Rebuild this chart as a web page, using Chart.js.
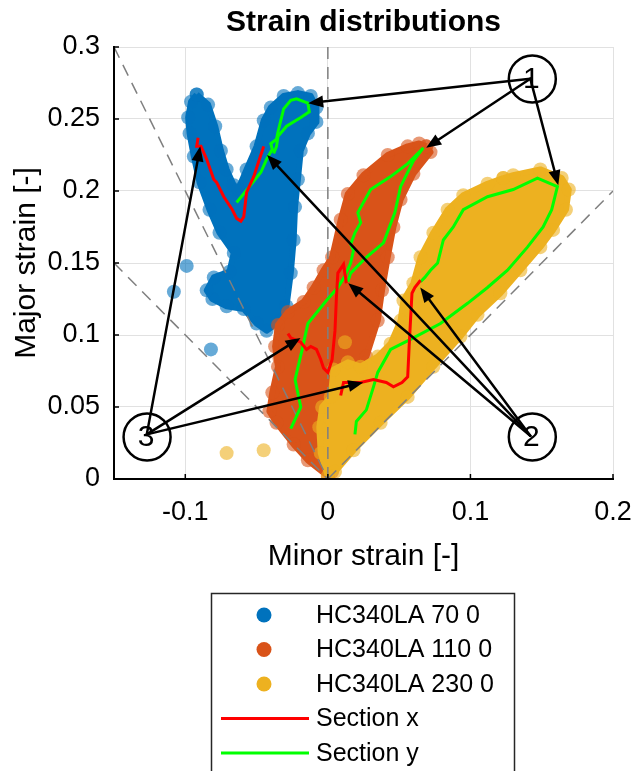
<!DOCTYPE html>
<html>
<head>
<meta charset="utf-8">
<title>Strain distributions</title>
<script src="https://cdn.jsdelivr.net/npm/chart.js@4.4.0/dist/chart.umd.min.js"></script>
<style>
  html, body { margin: 0; padding: 0; background: #fff; }
  canvas { display: block; }
</style>
</head>
<body>
<canvas id="strain-chart" width="634" height="771"></canvas>
<script>

// axis ticks
var xTickValues = [-0.1, 0, 0.1, 0.2];
var xTickLabels = ['-0.1', '0', '0.1', '0.2'];
var yTickValues = [0, 0.05, 0.1, 0.15, 0.2, 0.25, 0.3];
var yTickLabels = ['0', '0.05', '0.1', '0.15', '0.2', '0.25', '0.3'];

// outline of each point cloud [minor, major]
var cloud70 = [[-0.092,0.267],[-0.084,0.260],[-0.079,0.245],[-0.075,0.228],[-0.071,0.215],[-0.066,0.204],
  [-0.063,0.201],[-0.057,0.215],[-0.050,0.231],[-0.045,0.249],[-0.040,0.258],[-0.031,0.266],[-0.021,0.268],
  [-0.012,0.266],[-0.008,0.258],[-0.008,0.248],[-0.014,0.240],[-0.019,0.228],[-0.021,0.208],[-0.023,0.189],
  [-0.024,0.166],[-0.026,0.143],[-0.029,0.120],[-0.033,0.110],[-0.043,0.103],[-0.050,0.108],[-0.059,0.118],
  [-0.071,0.120],[-0.081,0.125],[-0.085,0.131],[-0.080,0.140],[-0.069,0.144],[-0.066,0.157],[-0.076,0.171],
  [-0.083,0.187],[-0.090,0.206],[-0.094,0.224],[-0.097,0.240],[-0.098,0.251],[-0.096,0.262]];
var cloud110 = [[0.069,0.231],[0.072,0.227],[0.060,0.212],[0.051,0.194],[0.046,0.175],[0.042,0.154],
  [0.038,0.131],[0.035,0.110],[0.027,0.085],[0.022,0.076],[0.012,0.040],[0.003,0.005],[0.000,0.002],
  [-0.014,0.013],[-0.024,0.024],[-0.036,0.039],[-0.041,0.047],[-0.039,0.060],[-0.035,0.078],[-0.037,0.092],
  [-0.035,0.107],[-0.028,0.116],[-0.017,0.123],[-0.010,0.133],[-0.003,0.145],[0.003,0.154],[0.009,0.180],
  [0.014,0.198],[0.025,0.211],[0.042,0.225],[0.056,0.231],[0.064,0.233]];
var cloud230 = [[0.123,0.209],[0.130,0.211],[0.149,0.215],[0.164,0.209],[0.169,0.201],[0.167,0.187],
  [0.158,0.173],[0.149,0.161],[0.135,0.145],[0.121,0.129],[0.105,0.114],[0.093,0.099],[0.074,0.078],
  [0.056,0.057],[0.037,0.039],[0.018,0.020],[0.005,0.005],[0.000,0.002],[-0.005,0.018],[-0.006,0.036],
  [-0.004,0.050],[0.002,0.057],[0.004,0.076],[0.014,0.081],[0.023,0.078],[0.035,0.085],[0.044,0.094],
  [0.051,0.110],[0.053,0.124],[0.060,0.136],[0.065,0.154],[0.074,0.171],[0.084,0.187],[0.095,0.197],
  [0.112,0.205]];

// loose points outside the clouds
var stray70 = [[-0.099,0.148],[-0.108,0.130],[-0.082,0.090]];
var stray110 = [[-0.034,0.084]];
var stray230 = [[-0.071,0.018],[-0.045,0.020],[0.012,0.095]];

// strain paths along the two sections
var sectionX70 = [[-0.091,0.237],[-0.092,0.231],[-0.089,0.231],[-0.085,0.222],[-0.080,0.208],[-0.078,0.206],
  [-0.073,0.196],[-0.067,0.187],[-0.064,0.181],[-0.061,0.179],[-0.059,0.182],[-0.057,0.199],[-0.052,0.210],
  [-0.048,0.222],[-0.045,0.231]];
var sectionY70 = [[-0.064,0.192],[-0.055,0.203],[-0.047,0.213],[-0.043,0.222],[-0.039,0.229],[-0.040,0.233],
  [-0.036,0.236],[-0.035,0.241],[-0.033,0.249],[-0.031,0.257],[-0.026,0.263],[-0.022,0.264],[-0.014,0.261],
  [-0.013,0.255],[-0.019,0.251],[-0.029,0.245],[-0.035,0.238],[-0.036,0.231],[-0.038,0.226]];
var sectionX110 = [[-0.028,0.101],[-0.026,0.098],[-0.019,0.095],[-0.015,0.090],[-0.012,0.092],[-0.008,0.090],
  [-0.005,0.083],[-0.003,0.077],[0.000,0.074],[0.003,0.083],[0.005,0.103],[0.006,0.126],[0.007,0.143],
  [0.011,0.149],[0.013,0.136]];
var sectionY110 = [[-0.026,0.035],[-0.019,0.050],[-0.023,0.069],[-0.018,0.090],[-0.014,0.108],[-0.001,0.124],
  [0.007,0.133],[0.012,0.141],[0.016,0.150],[0.018,0.159],[0.016,0.163],[0.019,0.171],[0.023,0.178],
  [0.021,0.185],[0.030,0.201],[0.044,0.210],[0.056,0.219],[0.063,0.226],[0.067,0.230],[0.060,0.221],
  [0.051,0.203],[0.047,0.185],[0.039,0.164],[0.027,0.154],[0.016,0.143],[0.014,0.137]];
var sectionX230 = [[0.009,0.058],[0.011,0.067],[0.023,0.067],[0.032,0.069],[0.041,0.067],[0.046,0.064],
  [0.052,0.067],[0.056,0.071],[0.057,0.092],[0.059,0.129],[0.061,0.133],[0.065,0.138]];
var sectionY230 = [[0.019,0.031],[0.020,0.040],[0.027,0.048],[0.032,0.064],[0.035,0.074],[0.044,0.090],
  [0.058,0.097],[0.079,0.108],[0.098,0.122],[0.112,0.133],[0.126,0.145],[0.140,0.161],[0.151,0.175],
  [0.157,0.187],[0.161,0.203],[0.147,0.209],[0.130,0.201],[0.112,0.196],[0.095,0.187],[0.088,0.175],
  [0.081,0.166],[0.077,0.150],[0.072,0.145],[0.068,0.140],[0.065,0.137]];

// reference strain paths (uniaxial, shear, plane strain, equibiaxial)
var uniaxialLine = [[-0.15,0.3],[0,0]];
var shearLine = [[-0.15,0.15],[0,0]];
var planeStrainLine = [[0,0],[0,0.3]];
var biaxialLine = [[0,0],[0.2,0.2]];

// numbered callouts and the points their arrows go to
var calloutText = ['1', '2', '3'];
var calloutPos = [[0.1434,0.2778],[0.1434,0.0292],[-0.1268,0.0292]];
var arrowFrom = [[0.142,0.278],[0.142,0.278],[0.142,0.278],
                 [0.142,0.030],[0.142,0.030],[0.142,0.030],
                 [-0.127,0.031],[-0.127,0.031],[-0.127,0.031]];
var arrowTo = [[-0.0138,0.261],[0.069,0.230],[0.1616,0.204],
               [-0.0426,0.225],[0.0143,0.136],[0.0648,0.133],
               [-0.0895,0.231],[-0.0192,0.098],[0.0248,0.067]];

var BLUE = '#0072BD', ORANGE = '#D95319', YELLOW = '#EDB120';

function toXY(pts) {
    return pts.map(function (p) { return { x: p[0], y: p[1] }; });
}
function closed(pts) {
    return pts.concat([pts[0]]);
}
function faded(hex, a) {
    var n = parseInt(hex.slice(1), 16);
    return 'rgba(' + (n >> 16) + ',' + ((n >> 8) & 255) + ',' + (n & 255) + ',' + a + ')';
}

function cloudSet(label, pts, color, order) {
    return {
        label: label,
        data: toXY(closed(pts)),
        showLine: true,
        fill: 'shape',
        backgroundColor: color,
        borderColor: color,
        borderWidth: 6,
        borderJoinStyle: 'round',
        pointRadius: 7,
        pointBackgroundColor: faded(color, 0.6),
        pointBorderWidth: 0,
        order: order,
        legendKind: 'marker'
    };
}
function straySet(pts, color, order) {
    return {
        data: toXY(pts),
        showLine: false,
        pointRadius: 7,
        pointBackgroundColor: faded(color, 0.6),
        pointBorderWidth: 0,
        order: order
    };
}
function pathSet(label, pts, color, inLegend) {
    return {
        label: label,
        data: toXY(pts),
        showLine: true,
        borderColor: color,
        borderWidth: 3,
        pointRadius: 0,
        fill: false,
        order: 1,
        legendKind: inLegend ? 'line' : null
    };
}
function dashSet(pts) {
    return {
        data: toXY(pts),
        showLine: true,
        borderColor: '#7f7f7f',
        borderWidth: 1.5,
        borderDash: [12, 8],
        pointRadius: 0,
        fill: false,
        order: 3
    };
}

var datasets = [
    pathSet('Section x', sectionX70, '#FF0000', true),
    pathSet('Section y', sectionY70, '#00FF00', true),
    pathSet('Section x', sectionX110, '#FF0000', false),
    pathSet('Section y', sectionY110, '#00FF00', false),
    pathSet('Section x', sectionX230, '#FF0000', false),
    pathSet('Section y', sectionY230, '#00FF00', false),
    dashSet(uniaxialLine),
    dashSet(shearLine),
    dashSet(planeStrainLine),
    dashSet(biaxialLine),
    cloudSet('HC340LA 70 0', cloud70, BLUE, 10),
    straySet(stray70, BLUE, 10),
    cloudSet('HC340LA 110 0', cloud110, ORANGE, 8),
    straySet(stray110, ORANGE, 8),
    cloudSet('HC340LA 230 0', cloud230, YELLOW, 6),
    straySet(stray230, YELLOW, 6)
];

var FONT = "'Liberation Sans', Arial, sans-serif";
Chart.defaults.font.family = FONT;
Chart.defaults.color = '#000';

// arrows and circled numbers
var calloutPlugin = {
    id: 'callouts',
    afterDatasetsDraw: function (chart) {
        var ctx = chart.ctx, sx = chart.scales.x, sy = chart.scales.y;
        ctx.save();
        ctx.strokeStyle = '#000';
        ctx.fillStyle = '#000';
        ctx.lineWidth = 2.5;
        ctx.lineCap = 'round';
        for (var i = 0; i < arrowTo.length; i++) {
            var x0 = sx.getPixelForValue(arrowFrom[i][0]), y0 = sy.getPixelForValue(arrowFrom[i][1]);
            var x1 = sx.getPixelForValue(arrowTo[i][0]), y1 = sy.getPixelForValue(arrowTo[i][1]);
            var ang = Math.atan2(y1 - y0, x1 - x0);
            var hl = 15, hw = 6;
            var bx = x1 - hl * Math.cos(ang), by = y1 - hl * Math.sin(ang);
            ctx.beginPath();
            ctx.moveTo(x0, y0);
            ctx.lineTo(bx, by);
            ctx.stroke();
            ctx.beginPath();
            ctx.moveTo(x1, y1);
            ctx.lineTo(bx + hw * Math.sin(ang), by - hw * Math.cos(ang));
            ctx.lineTo(bx - hw * Math.sin(ang), by + hw * Math.cos(ang));
            ctx.closePath();
            ctx.fill();
        }
        ctx.font = '30px ' + FONT;
        ctx.textAlign = 'center';
        ctx.textBaseline = 'middle';
        for (var j = 0; j < calloutPos.length; j++) {
            var cx = sx.getPixelForValue(calloutPos[j][0]), cy = sy.getPixelForValue(calloutPos[j][1]);
            ctx.beginPath();
            ctx.arc(cx, cy, 23.5, 0, Math.PI * 2);
            ctx.stroke();
            ctx.fillText(calloutText[j], cx - 1, cy + 1);
        }
        ctx.restore();
    },
    afterDraw: function (chart) {
        // inward tick marks like the original axes
        var ctx = chart.ctx, sx = chart.scales.x, sy = chart.scales.y, a = chart.chartArea;
        ctx.save();
        ctx.strokeStyle = '#000';
        ctx.lineWidth = 1.5;
        xTickValues.forEach(function (v) {
            var px = sx.getPixelForValue(v);
            ctx.beginPath(); ctx.moveTo(px, a.bottom); ctx.lineTo(px, a.bottom - 5); ctx.stroke();
        });
        yTickValues.forEach(function (v) {
            var py = sy.getPixelForValue(v);
            ctx.beginPath(); ctx.moveTo(a.left, py); ctx.lineTo(a.left + 5, py); ctx.stroke();
        });
        ctx.restore();
    }
};

// boxed legend under the axes
var boxLegend = {
    id: 'boxLegend',
    afterDraw: function (chart) {
        var ctx = chart.ctx;
        var items = chart.data.datasets.filter(function (d) { return d.legendKind; });
        items.sort(function (a, b) { return (a.legendKind === 'line') - (b.legendKind === 'line'); });
        ctx.save();
        ctx.fillStyle = '#fff';
        ctx.fillRect(211, 593, 304, 200);
        ctx.strokeStyle = '#262626';
        ctx.lineWidth = 1.5;
        ctx.strokeRect(211.5, 593.5, 303, 200);
        ctx.font = '25px ' + FONT;
        ctx.textBaseline = 'middle';
        ctx.textAlign = 'left';
        items.forEach(function (d, i) {
            var cy = 615 + i * 34.5;
            if (d.legendKind === 'marker') {
                ctx.fillStyle = d.borderColor;
                ctx.beginPath();
                ctx.arc(264, cy, 7.5, 0, Math.PI * 2);
                ctx.fill();
            } else {
                ctx.strokeStyle = d.borderColor;
                ctx.lineWidth = 3;
                ctx.beginPath();
                ctx.moveTo(221, cy);
                ctx.lineTo(309, cy);
                ctx.stroke();
            }
            ctx.fillStyle = '#000';
            ctx.fillText(d.label, 316, cy + 1);
        });
        ctx.restore();
    }
};

var config = {
    type: 'scatter',
    data: { datasets: datasets },
    options: {
        responsive: false,
        animation: false,
        events: [],
        layout: { padding: { left: 0, right: 21, top: 0, bottom: 196 } },
        plugins: {
            legend: { display: false },
            tooltip: { enabled: false },
            title: {
                display: true,
                fullSize: false,
                text: 'Strain distributions',
                color: '#000',
                font: { size: 30, weight: 'bold' },
                padding: { top: 5, bottom: 6 }
            }
        },
        scales: {
            x: {
                type: 'linear',
                min: -0.15,
                max: 0.2,
                afterBuildTicks: function (s) { s.ticks = xTickValues.map(function (v) { return { value: v }; }); },
                afterFit: function (s) { s.height = 96; s.paddingLeft = 0; s.paddingRight = 0; },
                grid: { color: '#e1e1e1', lineWidth: 1, drawTicks: false },
                border: { color: '#000', width: 2, z: 1 },
                ticks: {
                    padding: 17,
                    color: '#000',
                    font: { size: 27 },
                    maxRotation: 0,
                    callback: function (v, i) { return xTickLabels[i]; }
                },
                title: { display: true, text: 'Minor strain [-]', color: '#000', font: { size: 30 }, padding: { top: 0, bottom: 0 } }
            },
            y: {
                type: 'linear',
                min: 0,
                max: 0.3,
                afterBuildTicks: function (s) { s.ticks = yTickValues.map(function (v) { return { value: v }; }); },
                afterFit: function (s) { s.width = 114; },
                grid: { color: '#e1e1e1', lineWidth: 1, drawTicks: false },
                border: { color: '#000', width: 2, z: 1 },
                ticks: {
                    padding: 14,
                    color: '#000',
                    font: { size: 27 },
                    callback: function (v, i) { return yTickLabels[i]; }
                },
                title: { display: true, text: 'Major strain [-]', color: '#000', font: { size: 30 }, padding: { top: 9, bottom: 0 } }
            }
        }
    },
    plugins: [calloutPlugin, boxLegend]
};

var chartContext = document.getElementById('strain-chart').getContext('2d');
window.strainChart = new Chart(chartContext, config);

</script>
</body>
</html>
